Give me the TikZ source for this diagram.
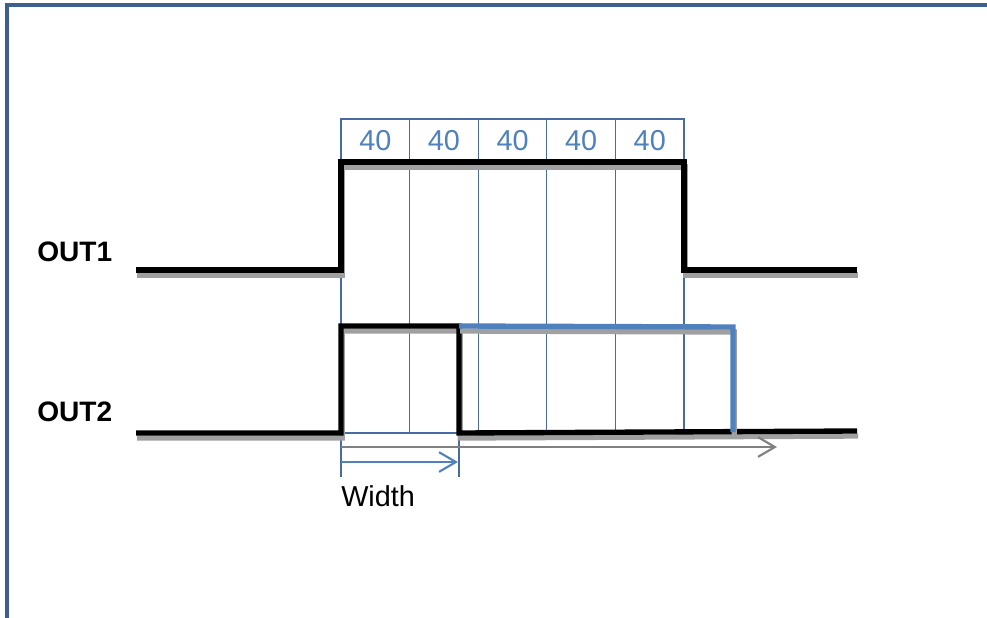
\documentclass[tikz,border=0pt]{standalone}
\usepackage{fontspec}
\setmainfont{Liberation Sans}
\usepackage{tikz}
\usetikzlibrary{arrows.meta,positioning}
\usepackage{xcolor}
\definecolor{tdborder}{RGB}{60,95,140}
\definecolor{tdgrid}{RGB}{72,108,162}
\definecolor{tdblue}{RGB}{79,129,189}
\definecolor{tdshadow}{RGB}{160,160,160}
\definecolor{tdgray}{RGB}{128,128,128}
\tikzstyle{signal} = [line width=3.8pt, preaction={draw=tdshadow, line width=3.8pt, transform canvas={shift={(0.03cm,-0.125cm)}}}]
\tikzstyle{gridline} = [line width=0.9pt, color=tdgrid]
\tikzstyle{cell} = [rectangle, draw=tdgrid, line width=0.9pt, minimum width=1.715cm, minimum height=1.075cm, inner sep=0pt, outer sep=0pt, text=tdblue]
\tikzstyle{sigtext} = [inner sep=0pt, anchor=west]
\tikzstyle{barb} = [line width=1.5pt, -{Straight Barb[length=12pt,width=14pt]}]

\begin{document}
\begin{tikzpicture}[x=0.025cm, y=-0.025cm, font=\fontsize{20.5}{24}\selectfont]
\useasboundingbox (0,0) rectangle (987,618);
% Frame
\draw[tdborder, line width=3.2pt] (7,618) -- (7,5) -- (987,5);

% Counter cells
\node[cell] (c1) at (375.3,140.5) {40};
\node[cell, right=0pt of c1] (c2) {40};
\node[cell, right=0pt of c2] (c3) {40};
\node[cell, right=0pt of c3] (c4) {40};
\node[cell, right=0pt of c4] (c5) {40};

% Helper points
\coordinate (base) at (0,433);
\coordinate (fall) at (459,433);
\coordinate (wbot) at (0,477);
\coordinate (wstart) at (341,462);
\coordinate (wend) at (458,462);
\coordinate (gstart) at (341,447);
\coordinate (gend) at (777,447);

% Grid lines
\draw[gridline] (c1.south west) -- (c1.south west |- wbot);
\draw[gridline] (c2.south west) -- (c2.south west |- base);
\draw[gridline] (c3.south west) -- (c3.south west |- base);
\draw[gridline] (c4.south west) -- (c4.south west |- base);
\draw[gridline] (c5.south west) -- (c5.south west |- base);
\draw[gridline] (c5.south east) -- (c5.south east |- base);
\draw[gridline] (c1.south west |- base) -- (fall) -- (fall |- wbot);

% Signals
\draw[signal] (136,270) -- (341,270) -- (341,162) -- (684,162) -- (684,270) -- (857,270);
\draw[signal] (136,433) -- (341,433) -- (341,326) -- (459,326) -- (459,433) -- (857,431);
\draw[signal, tdblue] (459,326) -- (733,327) -- (733,432);

% Arrows
\draw[barb, tdgray] (gstart) -- (gend);
\draw[barb, tdblue] (wstart) -- (wend);

% Labels
\node[sigtext, font=\fontsize{20}{24}\selectfont\bfseries] (out1) at (37,252) {OUT1};
\node[sigtext, font=\fontsize{20}{24}\selectfont\bfseries] (out2) at (37,412) {OUT2};
\node[sigtext] (wlabel) at (341,496) {Width};
\end{tikzpicture}
\end{document}
